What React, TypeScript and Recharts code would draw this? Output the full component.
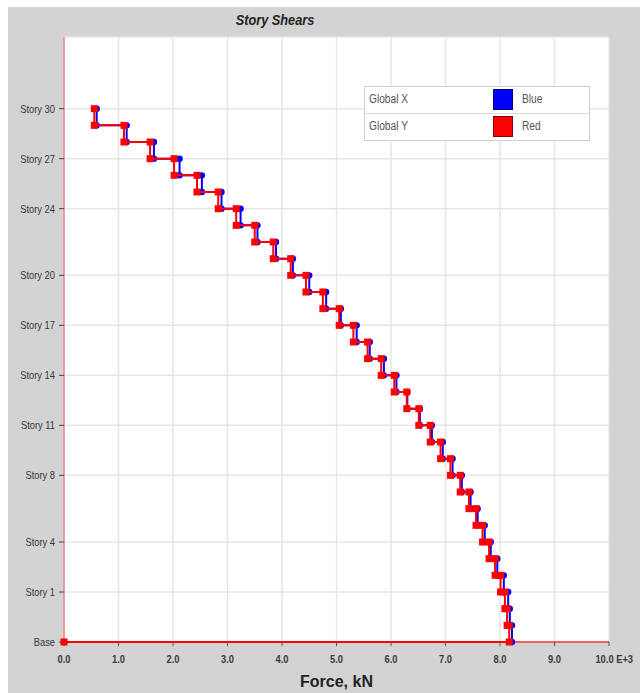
import React from 'react';
import { ScatterChart, Scatter, XAxis, YAxis, CartesianGrid } from 'recharts';

// story shear per level, from level 1 (bottom) up to level 32 (roof), kN
const shearGlobalX = [
  8220, 8180, 8150, 8070, 7950, 7830, 7720, 7590, 7460, 7300, 7130, 6950, 6750, 6530, 6300, 6100,
  5870, 5610, 5370, 5080, 4810, 4500, 4200, 3890, 3550, 3240, 2890, 2530, 2120, 1650, 1150, 600,
];
const shearGlobalY = [
  8170, 8130, 8090, 8010, 7910, 7800, 7680, 7560, 7430, 7270, 7090, 6910, 6720, 6510, 6290, 6060,
  5820, 5570, 5310, 5050, 4750, 4440, 4160, 3840, 3500, 3160, 2830, 2440, 2020, 1580, 1100, 556,
];

const levelTicks = [0, 3, 6, 10, 13, 16, 19, 22, 26, 29, 32];
const levelNames = ['Base', 'Story 1', 'Story 4', 'Story 8', 'Story 11', 'Story 14', 'Story 17', 'Story 20', 'Story 24', 'Story 27', 'Story 30'];
const forceTicks = [0, 1000, 2000, 3000, 4000, 5000, 6000, 7000, 8000, 9000, 10000];

const legendItems = [
  { name: 'Global X', colorName: 'Blue', color: '#0000ff', border: '#00007a' },
  { name: 'Global Y', colorName: 'Red', color: '#ff0000', border: '#8a0000' },
];

const FONT = "'Liberation Sans', Arial, sans-serif";
// squeeze text horizontally to get the condensed look
const SQUEEZE = 0.85;

// each story holds its shear over its height, then jumps at the floor below
const stepPoints = (shear: number[]) => {
  const pts: { v: number; lvl: number }[] = [];
  for (let i = shear.length; i >= 1; i--) {
    pts.push({ v: shear[i - 1], lvl: i }, { v: shear[i - 1], lvl: i - 1 });
  }
  pts.push({ v: 0, lvl: 0 });
  return pts;
};

const dataX = stepPoints(shearGlobalX);
const dataY = stepPoints(shearGlobalY);

const BlueDot = (props: any) => <circle cx={props.cx} cy={props.cy} r={3.2} fill="#0000ff" />;
const RedSquare = (props: any) => (
  <rect x={props.cx - 3.5} y={props.cy - 3.5} width={7} height={7} fill="#ff0000" />
);

const ForceTick = (props: any) => {
  const { x, y, payload } = props;
  const label = (payload.value / 1000).toFixed(1);
  const last = payload.value === 10000;
  return (
    <g transform={`translate(${x},${y}) scale(${SQUEEZE},1)`}>
      <text
        x={last ? -16 : 0}
        y={0}
        dy="0.71em"
        textAnchor={last ? 'start' : 'middle'}
        fontFamily={FONT}
        fontSize={11}
        fontWeight={700}
        fill="#3a3a3a"
      >
        {last ? `${label} E+3` : label}
      </text>
    </g>
  );
};

const StoryTick = (props: any) => {
  const { x, y, payload } = props;
  return (
    <g transform={`translate(${x},${y}) scale(${SQUEEZE},1)`}>
      <text x={0} y={0} dy="0.355em" textAnchor="end" fontFamily={FONT} fontSize={11} fill="#333">
        {levelNames[levelTicks.indexOf(payload.value)]}
      </text>
    </g>
  );
};

const squeezed: React.CSSProperties = {
  position: 'absolute', top: 5, transform: `scaleX(${SQUEEZE})`, transformOrigin: 'left center', whiteSpace: 'nowrap',
};

export default function App() {
  return (
    <div style={{ position: 'absolute', left: 8, top: 7, width: 632, height: 686, background: '#d3d3d3' }}>
      <div
        style={{
          position: 'absolute', left: 167, width: 200, top: 4, textAlign: 'center',
          transform: `scaleX(${SQUEEZE})`,
          fontFamily: FONT, fontSize: 15, fontWeight: 700, fontStyle: 'italic', color: '#222',
        }}
      >
        Story Shears
      </div>
      <ScatterChart width={632} height={686} margin={{ top: 30, right: 31, bottom: 0, left: 0 }}>
        <CartesianGrid fill="#ffffff" stroke="#e6e6e6" strokeWidth={1.5} />
        <XAxis
          type="number"
          dataKey="v"
          domain={[0, 10000]}
          ticks={forceTicks}
          height={51}
          tick={<ForceTick />}
          tickSize={4}
          tickMargin={9}
          tickLine={{ stroke: '#555' }}
          axisLine={{ stroke: '#ff3030', strokeWidth: 1.5 }}
          label={{ value: 'Force, kN', position: 'insideBottom', offset: 6, fill: '#222', fontSize: 16, fontWeight: 700, fontFamily: FONT }}
        />
        <YAxis
          type="number"
          dataKey="lvl"
          domain={[0, 36.3]}
          ticks={levelTicks}
          width={56}
          tickSize={5}
          tickMargin={4}
          tickLine={{ stroke: '#444' }}
          axisLine={{ stroke: '#f08080', strokeWidth: 1.5 }}
          tick={<StoryTick />}
        />
        <Scatter
          name="Global X"
          data={dataX}
          line={{ stroke: '#0000ff', strokeWidth: 2 }}
          lineType="joint"
          shape={BlueDot}
          isAnimationActive={false}
        />
        <Scatter
          name="Global Y"
          data={dataY}
          line={{ stroke: '#ff0000', strokeWidth: 2 }}
          lineType="joint"
          shape={RedSquare}
          isAnimationActive={false}
        />
      </ScatterChart>
      <div
        style={{
          position: 'absolute', left: 356, top: 79, width: 224, background: '#fff',
          border: '1px solid #cfcfcf', fontFamily: FONT, fontSize: 12, color: '#555',
        }}
      >
        {legendItems.map((item, i) => (
          <div
            key={item.name}
            style={{
              position: 'relative', height: 26,
              borderTop: i > 0 ? '1px solid #d8d8d8' : 'none',
            }}
          >
            <span style={{ ...squeezed, left: 4 }}>{item.name}</span>
            <span
              style={{
                position: 'absolute', left: 128, top: 2, width: 18, height: 19,
                background: item.color, border: `1px solid ${item.border}`,
              }}
            />
            <span style={{ ...squeezed, left: 157 }}>{item.colorName}</span>
          </div>
        ))}
      </div>
    </div>
  );
}
